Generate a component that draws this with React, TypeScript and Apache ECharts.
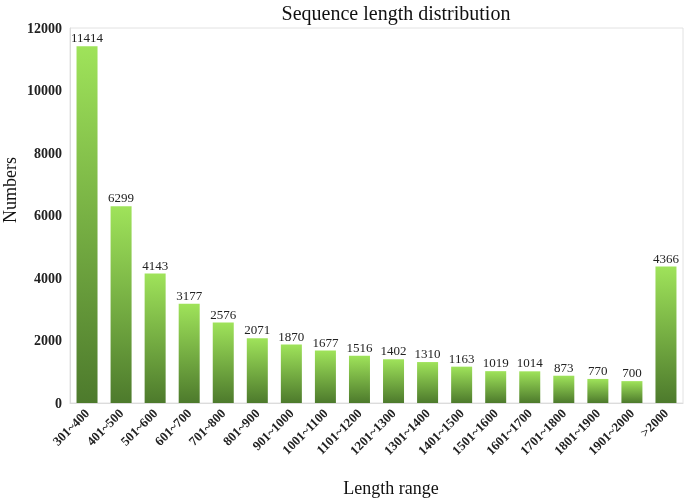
import React, { useEffect, useRef } from "react";
import * as echarts from "echarts";

const categories = [
  "301~400", "401~500", "501~600", "601~700", "701~800", "801~900", "901~1000",
  "1001~1100", "1101~1200", "1201~1300", "1301~1400", "1401~1500", "1501~1600",
  "1601~1700", "1701~1800", "1801~1900", "1901~2000", ">2000",
];
const values = [11414, 6299, 4143, 3177, 2576, 2071, 1870, 1677, 1516, 1402, 1310, 1163, 1019, 1014, 873, 770, 700, 4366];

const titleText = "Sequence length distribution";
const xName = "Length range";
const yName = "Numbers";

const FONT = "'Liberation Serif', 'Times New Roman', serif";

export default function App() {
  const ref = useRef<HTMLDivElement>(null);
  useEffect(() => {
    if (!ref.current) return;
    const chart = echarts.init(ref.current, undefined, { renderer: "svg" });
    chart.setOption({
      animation: false,
      title: {
        text: titleText,
        left: 391,
        textAlign: "center",
        top: -2,
        textStyle: { fontFamily: FONT, fontSize: 20, fontWeight: "normal", color: "#111" },
      },
      graphic: [
        {
          type: "text",
          x: 391, y: 488,
          style: {
            text: xName, fontFamily: FONT, fontSize: 18, fill: "#111",
            textAlign: "center", textVerticalAlign: "middle",
          },
        },
        {
          type: "text",
          x: 10, y: 190, rotation: Math.PI / 2,
          style: {
            text: yName, fontFamily: FONT, fontSize: 18, fill: "#111",
            textAlign: "center", textVerticalAlign: "middle",
          },
        },
      ],
      grid: {
        left: 70, right: 2, top: 28, bottom: 96,
        containLabel: false,
        outerBoundsMode: "none",
        show: true, borderColor: "#e2e2e2", borderWidth: 1,
      },
      xAxis: {
        type: "category",
        data: categories,
        axisLine: { lineStyle: { color: "#dcdcdc" } },
        axisTick: { show: false },
        axisLabel: {
          rotate: 45, interval: 0, margin: 8,
          fontFamily: FONT, fontSize: 13, fontWeight: "bold", color: "#222",
        },
      },
      yAxis: {
        type: "value",
        min: 0, max: 12000, interval: 2000,
        axisLine: { show: true, lineStyle: { color: "#dcdcdc" } },
        axisTick: { show: false },
        splitLine: { show: false },
        axisLabel: {
          fontFamily: FONT, fontSize: 14, fontWeight: "bold", color: "#222", margin: 8,
          formatter: (v: number) => String(v),
        },
      },
      series: [
        {
          type: "bar",
          data: values,
          barWidth: 21,
          itemStyle: {
            color: new echarts.graphic.LinearGradient(0, 0, 0, 1, [
              { offset: 0, color: "#9fe35a" },
              { offset: 1, color: "#4d7a2c" },
            ]),
          },
          label: {
            show: true, position: "top", distance: 2,
            fontFamily: FONT, fontSize: 13, color: "#222",
          },
        },
      ],
    });
    return () => chart.dispose();
  }, []);
  return <div ref={ref} style={{ position: "fixed", left: 0, top: 0, width: 685, height: 499 }} />;
}
